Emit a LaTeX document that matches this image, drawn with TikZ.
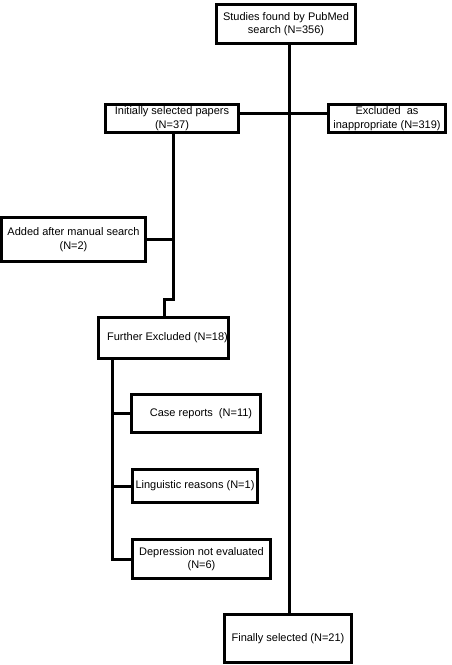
\documentclass[tikz,border=0pt]{standalone}
\usepackage{fontspec}
\setmainfont{Liberation Sans}
\begin{document}
\begin{tikzpicture}[x=1pt,y=-1pt,
  box/.style={draw, line width=3pt, inner sep=0pt, align=center, font=\fontsize{11}{13.5}\selectfont},
  link/.style={line width=3pt}]
\useasboundingbox (0,0) rectangle (451,665);
\node[box, minimum width=139pt, minimum height=39pt] (s1) at (286,24) {Studies found by PubMed\\search (N=356)};
\node[box, minimum width=133pt, minimum height=28pt] (init) at (172,118.5) {Initially selected papers\\(N=37)};
\node[box, minimum width=117pt, minimum height=28pt] (excl) at (387,118.5) {Excluded\ \ as\\inappropriate (N=319)};
\node[box, minimum width=144pt, minimum height=44pt] (add) at (73.5,239.5) {Added after manual search\\(N=2)};
\node[box, minimum width=130pt, minimum height=41pt] (fur) at (163.5,338) {\hspace*{8pt}Further Excluded (N=18)};
\node[box, minimum width=129pt, minimum height=38pt] (case) at (196,413.5) {\hspace*{10pt}Case reports\ \ (N=11)};
\node[box, minimum width=125pt, minimum height=33pt] (ling) at (195,486) {Linguistic reasons (N=1)};
\node[box, minimum width=138pt, minimum height=39pt] (dep) at (201.5,559) {Depression not evaluated\\(N=6)};
\node[box, minimum width=127pt, minimum height=48pt] (fin) at (288,638.5) {Finally selected (N=21)};
\coordinate (mx) at (289,0);
\coordinate (hy) at (0,113);
\coordinate (j1) at (173,299);
\coordinate (j2) at (164,299);
\coordinate (bx) at (112,0);
\draw[link] (s1.south -| mx) -- (fin.north -| mx);
\draw[link] (init.east |- hy) -- (excl.west |- hy);
\draw[link] (init.south -| j1) -- (j1) -- (j2) -- (fur.north -| j2);
\draw[link] (add.east) -- (add.east -| j1);
\draw[link] (fur.south -| bx) -- (dep.west -| bx) -- (dep.west);
\draw[link] (case.west -| bx) -- (case.west);
\draw[link] (ling.west -| bx) -- (ling.west);
\end{tikzpicture}
\end{document}
